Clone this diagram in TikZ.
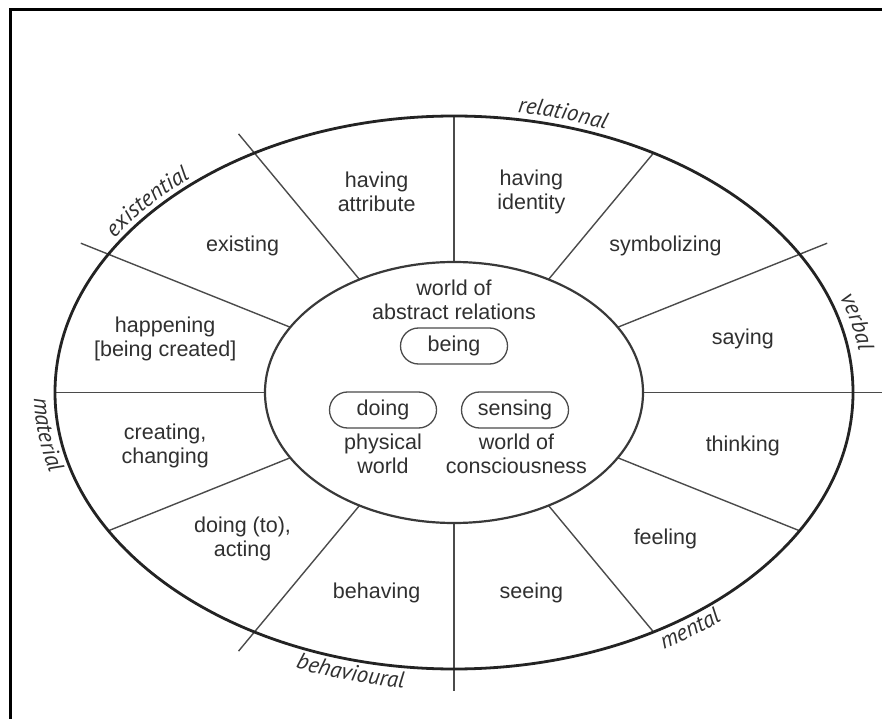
\documentclass[tikz,border=0pt]{standalone}
\usepackage{fontspec}
\setmainfont{Liberation Sans}
\newfontfamily\catfamily{PT Sans}
\usetikzlibrary{calc,decorations.text}
\definecolor{ink}{RGB}{48,48,48}
\definecolor{rim}{RGB}{35,35,35}
\definecolor{spokecol}{RGB}{75,75,75}
\newcommand{\catlabel}{\catfamily\itshape\fontsize{23}{23}\selectfont}

\begin{document}
\begin{tikzpicture}[x=1pt,y=1pt,
  lbl/.style={text=ink, font=\fontsize{21.5}{24}\selectfont, align=center, inner sep=0pt},
  pill/.style={draw=spokecol, line width=1.3, rounded corners=18, minimum width=107,
               minimum height=36, inner sep=0pt, text=ink, font=\fontsize{21.5}{24}\selectfont},
  spoke/.style={draw=spokecol, line width=1.4},
  outerring/.style={draw=rim, line width=2.8},
  innerring/.style={draw=rim!90!white, line width=2.2},
  frameline/.style={draw=black, line width=2.8, line join=miter}
]
\fill[white] (0,0) rectangle (882,718);
\useasboundingbox (0,0) rectangle (882,718);

% frame
\draw[frameline] (10.7,-10) -- (10.7,708.7) -- (900,708.7);

% centre of the wheel
\coordinate (C) at (454,325.5);

% spokes: category boundaries run past the rim
\foreach \a/\r in {0/1.08,30/1.08,60/1,90/1,120/1.08,150/1.08,180/1,210/1,240/1.08,270/1.08,300/1,330/1}{
  \coordinate (in\a) at ($(C)+(\a:189 and 130.5)$);
  \coordinate (out\a) at ($(C)+(\a:{399*\r} and {276.5*\r})$);
  \draw[spoke] (in\a) -- (out\a);
}

% rings
\draw[outerring] (C) ellipse [x radius=399, y radius=276.5];
\draw[innerring] (C) ellipse [x radius=189, y radius=130.5];

% process types in the sectors
\node[lbl] (identity) at ($(C)+(75:299 and 207.5)$) {having\\identity};
\node[lbl] (symbol)   at ($(C)+(45:299 and 207.5)$) {symbolizing};
\node[lbl] (saying)   at ($(C)+(15:299 and 207.5)$) {saying};
\node[lbl] (thinking) at ($(C)+(-15:299 and 207.5)$) {thinking};
\node[lbl] (feeling)  at ($(C)+(-45:299 and 207.5)$) {feeling};
\node[lbl] (seeing)   at ($(C)+(-75:299 and 207.5)$) {seeing};
\node[lbl] (behaving) at ($(C)+(-105:299 and 207.5)$) {behaving};
\node[lbl] (acting)   at ($(C)+(-135:299 and 207.5)$) {doing (to),\\acting};
\node[lbl] (creating) at ($(C)+(195:299 and 207.5)$) {creating,\\changing};
\node[lbl] (happen)   at ($(C)+(165:299 and 207.5)$) {happening\\{[being created]}};
\node[lbl] (existing) at ($(C)+(135:299 and 207.5)$) {existing};
\node[lbl] (attrib)   at ($(C)+(105:299 and 207.5)$) {having\\attribute};

% the three worlds in the hub
\node[lbl] (abstract) at (454,418) {world of\\abstract relations};
\node[pill] (being)   at (454,372) {being};
\node[pill] (doing)   at (383,308) {doing};
\node[pill] (sensing) at (515,308) {sensing};
\node[lbl] (physical) at (383,264) {physical\\world};
\node[lbl] (conscious) at (516.5,264) {world of\\consciousness};

% category names along the rim
\path[decorate, decoration={text along path, text align=center, text={|\catlabel\color{ink}|relational}}]
  ($(C)+(96:406 and 283.5)$) arc[start angle=96, end angle=52, x radius=406, y radius=283.5];
\path[decorate, decoration={text along path, text align=center, text={|\catlabel\color{ink}|verbal}}]
  ($(C)+(35:409 and 286.5)$) arc[start angle=35, end angle=-9, x radius=409, y radius=286.5];
\path[decorate, decoration={text along path, text align=center, text={|\catlabel\color{ink}|existential}}]
  ($(C)+(162:405 and 282.5)$) arc[start angle=162, end angle=118, x radius=405, y radius=282.5];
\path[decorate, decoration={text along path, text align=center, text={|\catlabel\color{ink}|material}}]
  ($(C)+(166:420 and 297.5)$) arc[start angle=166, end angle=210, x radius=420, y radius=297.5];
\path[decorate, decoration={text along path, text align=center, text={|\catlabel\color{ink}|behavioural}}]
  ($(C)+(233:420 and 297.5)$) arc[start angle=233, end angle=277, x radius=420, y radius=297.5];
\path[decorate, decoration={text along path, text align=center, text={|\catlabel\color{ink}|mental}}]
  ($(C)+(284:419 and 296.5)$) arc[start angle=284, end angle=328, x radius=419, y radius=296.5];
\end{tikzpicture}
\end{document}
